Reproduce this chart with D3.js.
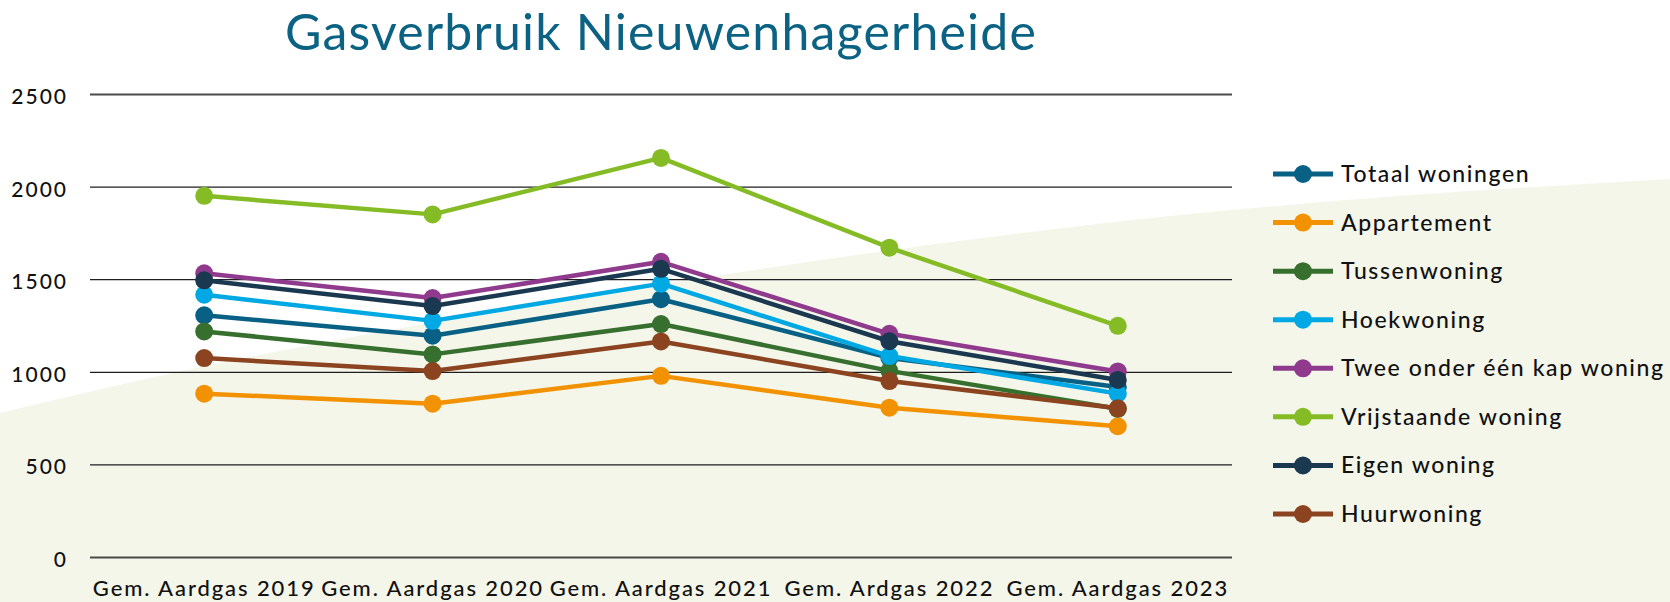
<!DOCTYPE html>
<html>
<head>
<meta charset="utf-8">
<script src="https://cdn.jsdelivr.net/npm/d3@7"></script>
<style>
  body { margin: 0; background: #fff; }
  svg { display: block; font-family: Lato, "Noto Sans", sans-serif; }
</style>
</head>
<body>
<script>
//Chart data
var categories = ["Gem. Aardgas 2019", "Gem. Aardgas 2020", "Gem. Aardgas 2021", "Gem. Ardgas 2022", "Gem. Aardgas 2023"];
var totaal = [1305, 1195, 1392, 1075, 918];
var appartement = [882, 828, 978, 806, 706];
var tussenwoning = [1218, 1094, 1258, 1005, 800];
var hoekwoning = [1416, 1275, 1476, 1085, 882];
var tweeOnderEenKap = [1532, 1398, 1594, 1205, 1002];
var vrijstaande = [1950, 1850, 2155, 1670, 1248];
var eigenWoning = [1494, 1355, 1556, 1165, 956];
var huurwoning = [1074, 1004, 1164, 950, 803];
var yTicks = [0, 500, 1000, 1500, 2000, 2500];

var seriesNames = ["Totaal woningen", "Appartement", "Tussenwoning", "Hoekwoning",
    "Twee onder één kap woning", "Vrijstaande woning", "Eigen woning", "Huurwoning"];
var seriesValues = [totaal, appartement, tussenwoning, hoekwoning,
    tweeOnderEenKap, vrijstaande, eigenWoning, huurwoning];
var seriesColors = ["#086185", "#f39200", "#366f2e", "#00a8e4",
    "#8f3a8d", "#85bc26", "#1a384f", "#8c4420"];

var width = 1670, height = 602;
var margin = {top: 94, left: 90, right: 1232, bottom: 557};

//Create the svg
const svg = d3.select("body")
    .append("svg")
    .attr("width", width)
    .attr("height", height);

//Background swoosh (decoration only)
var swoosh = [[0, 413], [150, 378], [300, 347], [688, 280], [1200, 213], [1670, 179]];
var swooshLine = d3.line().curve(d3.curveMonotoneX);
svg.append("path")
    .attr("d", swooshLine(swoosh) + `L${width},${height}L0,${height}Z`)
    .attr("fill", "#f4f6ea");

//Scales
var x = d3.scaleBand()
    .domain(categories)
    .range([margin.left, margin.right]);

var y = d3.scaleLinear()
    .domain([0, 2500])
    .range([margin.bottom, margin.top]);

//Gridlines + y labels
const yAxis = svg.append("g")
    .attr("transform", `translate(${margin.left},0)`)
    .call(d3.axisLeft(y).tickValues(yTicks).tickFormat(d3.format("d"))
        .tickSize(-(margin.right - margin.left)).tickPadding(22))
    .call(g => g.select(".domain").remove());

yAxis.selectAll(".tick line")
    .attr("stroke", d => (d === 0 || d === 2500) ? "#4a4a4a" : "#1e1e1e")
    .attr("stroke-width", d => (d === 0 || d === 2500) ? 1.8 : 1.2);

yAxis.selectAll(".tick text")
    .attr("fill", "#111")
    .attr("font-size", 21)
    .attr("font-weight", 500)
    .attr("letter-spacing", 2)
    .attr("font-family", "Lato, sans-serif")
    .attr("dy", "0.45em");

//X labels
const xAxis = svg.append("g")
    .attr("transform", `translate(0,${margin.bottom})`)
    .call(d3.axisBottom(x).tickSize(0).tickPadding(23))
    .call(g => g.select(".domain").remove());

xAxis.selectAll(".tick text")
    .attr("fill", "#111")
    .attr("font-size", 22)
    .attr("font-weight", 500)
    .attr("letter-spacing", 1.9)
    .attr("font-family", "Lato, sans-serif");

//Title
svg.append("text")
    .attr("x", (margin.left + margin.right) / 2)
    .attr("y", 50)
    .attr("text-anchor", "middle")
    .attr("fill", "#0b6282")
    .attr("font-size", 50)
    .attr("letter-spacing", 1.2)
    .text("Gasverbruik Nieuwenhagerheide");

//Lines and markers
var line = d3.line()
    .x((d, i) => x(categories[i]) + x.bandwidth() / 2)
    .y(d => y(d));

seriesValues.forEach(function(vals, s) {
    const g = svg.append("g");
    g.append("path")
        .datum(vals)
        .attr("fill", "none")
        .attr("stroke", seriesColors[s])
        .attr("stroke-width", 4.5)
        .attr("stroke-linejoin", "round")
        .attr("d", line);
    g.selectAll("circle")
        .data(vals)
        .join("circle")
        .attr("cx", (d, i) => x(categories[i]) + x.bandwidth() / 2)
        .attr("cy", d => y(d))
        .attr("r", 9)
        .attr("fill", seriesColors[s]);
});

//Legend
var legendY = d3.scalePoint()
    .domain(seriesNames)
    .range([174, 514]);

const legend = svg.append("g");
seriesNames.forEach(function(name, s) {
    const row = legend.append("g")
        .attr("transform", `translate(1273,${legendY(name)})`);
    row.append("line")
        .attr("x1", 0).attr("x2", 60)
        .attr("stroke", seriesColors[s])
        .attr("stroke-width", 5);
    row.append("circle")
        .attr("cx", 30)
        .attr("r", 9)
        .attr("fill", seriesColors[s]);
    row.append("text")
        .attr("x", 68)
        .attr("y", -1)
        .attr("dominant-baseline", "central")
        .attr("fill", "#111")
        .attr("font-size", 23)
        .attr("font-weight", 500)
        .attr("letter-spacing", 1.6)
        .text(name);
});
</script>
</body>
</html>
